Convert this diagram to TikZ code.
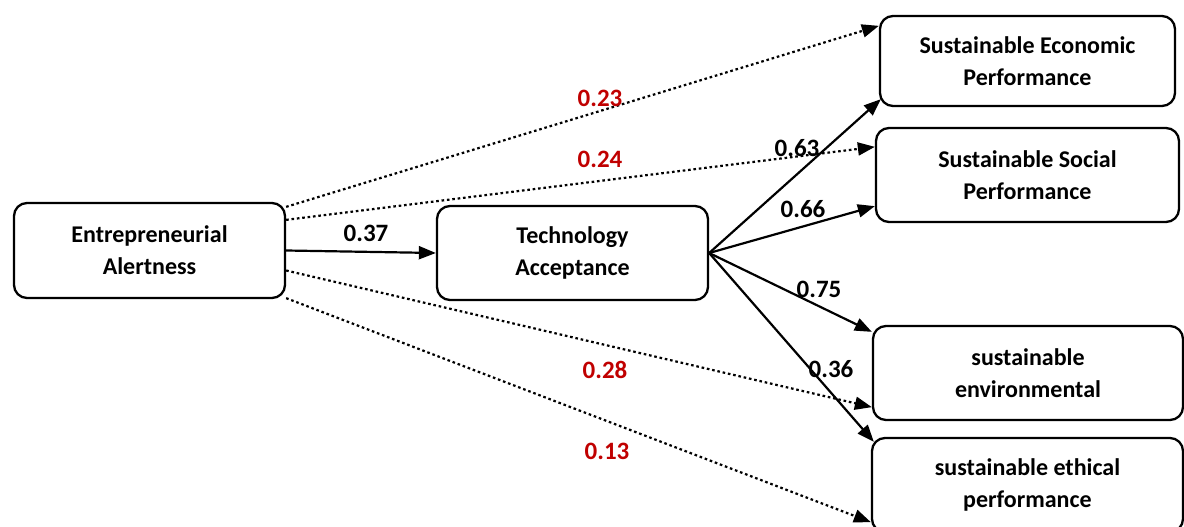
\documentclass[tikz,border=0pt]{standalone}
\usepackage{fontspec}
\setmainfont{Carlito}
\usetikzlibrary{arrows.meta}
\definecolor{pathred}{RGB}{192,0,0}

\begin{document}
\begin{tikzpicture}[x=1pt, y=-1pt,
  construct/.style={draw, line width=2.3pt, rounded corners=13pt, align=center, inner sep=0pt,
    minimum height=94pt, font=\bfseries\fontsize{24}{32}\selectfont},
  coef/.style={font=\bfseries\fontsize{25}{28}\selectfont},
  direct/.style={line width=2.2pt, -{Triangle[length=17pt, width=13pt]}},
  indirect/.style={line width=2.2pt, dash pattern=on 2.6pt off 2.8pt, -{Triangle[length=17pt, width=13pt]}}]
\useasboundingbox (0,0) rectangle (1184,527);

\node [construct, minimum width=271pt, minimum height=95pt] (ea) at (149.5,250.5) {Entrepreneurial\\Alertness};
\node [construct, minimum width=271pt] (ta) at (572.5,253) {Technology\\Acceptance};
\node [construct, minimum width=295pt, minimum height=90pt] (sep) at (1027.5,61) {Sustainable Economic\\Performance};
\node [construct, minimum width=303pt] (ssp) at (1027.5,175) {Sustainable Social\\Performance};
\node [construct, minimum width=310pt] (senv) at (1028,373) {sustainable\\environmental};
\node [construct, minimum width=311pt] (seth) at (1027.5,485) {sustainable ethical\\performance};

% direct paths
\draw [direct] (ea.east) -- (ta.west);
\draw [direct] (ta.east) -- ([xshift=2pt, yshift=8pt]sep.south west);
\draw [direct] (ta.east) -- ([yshift=17pt]ssp.south west);
\draw [direct] (ta.east) -- ([yshift=-7pt]senv.north west);
\draw [direct] (ta.east) -- ([xshift=3pt, yshift=-5pt]seth.north west);

% paths that skip the mediator
\draw [indirect] ([yshift=-5pt]ea.north east) -- ([yshift=-11pt]sep.north west);
\draw [indirect] ([yshift=-18pt]ea.north east) -- ([yshift=-20pt]ssp.north west);
\draw [indirect] ([yshift=-20pt]ea.east) -- ([yshift=14pt]senv.south west);
\draw [indirect] ([yshift=1pt]ea.south east) -- ([yshift=11pt]seth.south west);

\node [coef] (b37) at (366,233) {0.37};
\node [coef] (b63) at (797,148) {0.63};
\node [coef] (b66) at (803,209) {0.66};
\node [coef] (b75) at (819,289) {0.75};
\node [coef] (b36) at (831,369) {0.36};
\node [coef, pathred] (b23) at (600,98) {0.23};
\node [coef, pathred] (b24) at (600,159) {0.24};
\node [coef, pathred] (b28) at (605,370) {0.28};
\node [coef, pathred] (b13) at (607,451) {0.13};
\end{tikzpicture}
\end{document}
